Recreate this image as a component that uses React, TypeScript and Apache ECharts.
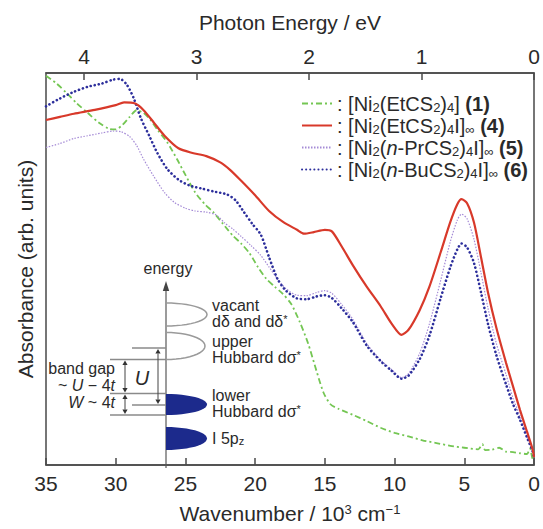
import React, { useEffect, useRef } from "react";
import * as echarts from "echarts";

// Wavenumber (10^3 cm^-1) vs absorbance (arb. units)
const seriesNames = ["s1", "s4", "s5", "s6"];
const legendLabels = [
  ": [Ni{s|2}(EtCS{s|2}){s|4}] {b|(1)}",
  ": [Ni{s|2}(EtCS{s|2}){s|4}I]{s|∞} {b|(4)}",
  ": [Ni{s|2}({i|n}-PrCS{s|2}){s|4}I]{s|∞} {b|(5)}",
  ": [Ni{s|2}({i|n}-BuCS{s|2}){s|4}I]{s|∞} {b|(6)}",
];
const wavenumberTicks = [35, 30, 25, 20, 15, 10, 5, 0];
const energyTicks = [4, 3, 2, 1, 0];
const EV_TO_KCM = 8.0655;

const data1: [number, number][] = [
  [35.0, 99.3], [34.3, 97.5], [33.5, 94.8], [32.8, 92.3], [32.0, 89.8], [31.2, 87.3],
  [30.5, 85.8], [30.0, 85.6], [29.5, 86.8], [29.0, 88.8], [28.5, 90.5], [28.0, 89.8],
  [27.5, 88.0], [27.0, 85.5], [26.3, 82.3], [25.6, 78.0], [25.0, 74.0], [24.3, 69.5],
  [23.6, 66.5], [23.0, 64.5], [22.3, 61.5], [21.6, 58.5], [21.0, 56.5], [20.4, 54.0],
  [19.8, 50.5], [19.2, 47.5], [18.6, 45.5], [18.0, 43.6], [17.4, 41.0], [16.8, 36.5],
  [16.2, 31.0], [15.6, 24.0], [15.1, 18.5], [14.6, 15.5], [14.0, 14.3], [13.0, 12.8],
  [12.0, 11.2], [11.0, 9.5], [10.0, 8.2], [9.0, 7.3], [8.0, 6.3], [7.0, 5.6],
  [6.0, 4.9], [5.0, 4.4], [4.0, 4.0], [3.7, 5.3], [3.5, 3.8], [3.0, 3.9],
  [2.5, 4.4], [2.0, 3.4], [1.5, 3.3], [1.0, 3.0], [0.5, 2.8], [0.3, 4.2],
  [0.1, 1.5], [0, 1.0],
];

const data4: [number, number][] = [
  [35.0, 88.0], [34.0, 88.8], [33.0, 89.6], [31.5, 90.6], [30.0, 91.8], [29.4, 92.5],
  [28.6, 92.2], [28.0, 90.5], [27.3, 87.5], [26.5, 84.0], [25.5, 80.8], [24.5, 79.6],
  [23.5, 78.8], [22.5, 77.2], [21.8, 75.3], [21.0, 72.5], [20.0, 68.8], [19.0, 64.8],
  [18.0, 62.0], [17.0, 60.0], [16.5, 59.0], [15.8, 59.4], [15.0, 60.0], [14.5, 59.6],
  [13.8, 55.8], [13.0, 51.0], [12.0, 45.5], [11.0, 40.5], [10.2, 36.0], [9.5, 33.2],
  [9.0, 34.5], [8.2, 39.5], [7.5, 45.5], [6.7, 54.2], [6.0, 62.0], [5.5, 66.5],
  [5.2, 67.8], [4.8, 66.8], [4.3, 61.8], [3.8, 53.0], [3.3, 44.0], [2.7, 35.0],
  [2.0, 26.0], [1.5, 20.0], [1.0, 14.0], [0.5, 8.5], [0.1, 4.0], [0, 2.0],
];

const data5: [number, number][] = [
  [35.0, 81.0], [34.0, 82.0], [33.0, 83.3], [32.0, 84.0], [31.0, 84.7], [30.2, 85.2],
  [29.6, 85.0], [29.0, 83.8], [28.5, 81.5], [28.0, 78.0], [27.3, 73.8], [26.5, 69.5],
  [25.8, 67.0], [25.0, 65.5], [24.3, 64.8], [23.5, 64.5], [22.8, 63.8], [22.2, 61.8],
  [21.6, 60.2], [21.0, 58.3], [20.3, 56.0], [19.6, 53.5], [19.0, 50.5], [18.4, 47.5],
  [17.8, 45.0], [17.0, 43.3], [16.3, 43.2], [15.6, 44.0], [15.0, 44.5], [14.5, 43.8],
  [13.8, 41.0], [13.0, 37.2], [12.0, 31.0], [11.0, 26.8], [10.2, 24.3], [9.5, 22.3],
  [9.0, 23.3], [8.2, 28.5], [7.5, 36.0], [6.7, 47.0], [6.0, 57.0], [5.5, 62.5],
  [5.2, 64.0], [4.8, 62.8], [4.3, 57.5], [3.8, 49.0], [3.3, 40.0], [2.7, 31.0],
  [2.0, 23.0], [1.5, 17.0], [1.0, 12.5], [0.5, 7.5], [0.1, 3.5], [0, 2.0],
];

const data6: [number, number][] = [
  [35.0, 91.5], [34.0, 93.5], [33.0, 95.2], [32.0, 96.5], [31.0, 97.3], [30.2, 98.3],
  [29.7, 98.5], [29.2, 97.0], [28.7, 93.5], [28.2, 88.5], [27.6, 84.0], [27.0, 79.5],
  [26.3, 75.5], [25.5, 72.8], [24.7, 71.3], [23.8, 70.5], [23.0, 69.8], [22.0, 69.0],
  [21.4, 67.5], [20.8, 64.5], [20.2, 61.5], [19.6, 58.8], [19.0, 53.0], [18.4, 47.5],
  [17.8, 44.5], [17.0, 42.5], [16.3, 42.3], [15.6, 43.0], [15.0, 43.3], [14.5, 42.6],
  [13.8, 40.0], [13.0, 36.5], [12.0, 30.5], [11.0, 26.5], [10.2, 24.0], [9.5, 22.0],
  [9.0, 22.8], [8.2, 27.0], [7.5, 33.0], [6.7, 42.5], [6.0, 50.5], [5.5, 55.0],
  [5.2, 56.5], [4.8, 55.5], [4.3, 51.5], [3.8, 44.0], [3.3, 36.0], [2.7, 28.0],
  [2.0, 20.5], [1.5, 15.5], [1.0, 11.5], [0.5, 7.0], [0.1, 3.5], [0, 2.0],
];

const FONT = "Liberation Sans, Arial, Helvetica, sans-serif";
const TXT = "#2a2a2a";

function halfEllipse(cx: number, cy: number, rx: number, ry: number): number[][] {
  const pts: number[][] = [];
  for (let i = 0; i <= 24; i++) {
    const a = -Math.PI / 2 + (Math.PI * i) / 24;
    pts.push([cx + rx * Math.cos(a), cy + ry * Math.sin(a)]);
  }
  return pts;
}

function hLine(x1: number, x2: number, y: number) {
  return { type: "line", shape: { x1, y1: y, x2, y2: y }, style: { stroke: "#8a8a8a", lineWidth: 1.4 } };
}

function dblArrow(x: number, y1: number, y2: number) {
  const h = 4.5;
  const w = 2.6;
  return [
    { type: "line", shape: { x1: x, y1: y1 + h, x2: x, y2: y2 - h }, style: { stroke: "#444", lineWidth: 1 } },
    { type: "polygon", shape: { points: [[x, y1], [x - w, y1 + h], [x + w, y1 + h]] }, style: { fill: "#333" } },
    { type: "polygon", shape: { points: [[x, y2], [x - w, y2 - h], [x + w, y2 - h]] }, style: { fill: "#333" } },
  ];
}

const insetRich = {
  n: { fontSize: 16, fontFamily: FONT, fill: TXT, lineHeight: 18 },
  it: { fontSize: 16, fontFamily: FONT, fill: TXT, fontStyle: "italic", lineHeight: 18 },
  sub: { fontSize: 11, fontFamily: FONT, fill: TXT, verticalAlign: "bottom", lineHeight: 10 },
  sup: { fontSize: 11, fontFamily: FONT, fill: TXT, verticalAlign: "top", lineHeight: 10 },
};

function insetText(x: number, y: number, text: string, align: string = "left") {
  return {
    type: "text",
    x,
    y,
    style: { text, align, verticalAlign: "middle", rich: insetRich, fontSize: 16, fontFamily: FONT, fill: TXT },
  };
}

export default function App() {
  const ref = useRef<HTMLDivElement>(null);

  useEffect(() => {
    document.body.style.margin = "0";
    if (!ref.current) return;
    const chart = echarts.init(ref.current, undefined, { renderer: "svg" });

    const mkSeries = (name: string, data: [number, number][], lineStyle: any, z: number) => ({
      name,
      type: "line",
      data,
      showSymbol: false,
      symbol: "none",
      smooth: 0.25,
      lineStyle,
      itemStyle: { color: lineStyle.color },
      z,
    });

    const legendRich = {
      m: { fontSize: 20, fontFamily: FONT, color: TXT, lineHeight: 21 },
      s: { fontSize: 13, fontFamily: FONT, color: TXT, verticalAlign: "bottom", lineHeight: 11 },
      i: { fontSize: 20, fontFamily: FONT, color: TXT, fontStyle: "italic", lineHeight: 21 },
      b: { fontSize: 20, fontFamily: FONT, color: TXT, fontWeight: "bold", lineHeight: 21 },
    };

    const graphics: any[] = [
      // energy axis
      { type: "line", shape: { x1: 166, y1: 289, x2: 166, y2: 468 }, style: { stroke: "#7a7a7a", lineWidth: 1.5 } },
      { type: "polygon", shape: { points: [[166, 281], [162.8, 291], [169.2, 291]] }, style: { fill: "#444" } },
      insetText(168, 268, "energy", "center"),
      // bands
      { type: "polyline", shape: { points: halfEllipse(166, 314.5, 41, 11.5) }, style: { stroke: "#9a9a9a", lineWidth: 1.5, fill: "none" } },
      { type: "polyline", shape: { points: halfEllipse(166, 346, 39, 13.5) }, style: { stroke: "#9a9a9a", lineWidth: 1.5, fill: "none" } },
      { type: "polygon", shape: { points: halfEllipse(166, 404.5, 41, 10.5) }, style: { fill: "#1c2a8c" } },
      { type: "polygon", shape: { points: halfEllipse(166, 438.5, 41, 11.5) }, style: { fill: "#1c2a8c" } },
      // level lines
      hLine(132, 166, 348),
      hLine(110, 166, 359.5),
      hLine(110, 166, 393.5),
      hLine(132, 166, 405),
      hLine(110, 166, 415),
      ...dblArrow(158, 349, 404),
      ...dblArrow(125, 360.5, 392.5),
      ...dblArrow(125, 394.5, 414),
      {
        type: "text", x: 142, y: 378,
        style: { text: "U", fontSize: 20, fontStyle: "italic", fontFamily: FONT, fill: TXT, align: "center", verticalAlign: "middle" },
      },
      insetText(115, 368, "band gap", "right"),
      insetText(115, 385, "~ {it|U} − 4{it|t}", "right"),
      insetText(115, 402, "{it|W} ~ 4{it|t}", "right"),
      insetText(212, 305, "vacant"),
      insetText(212, 321, "dδ and dδ{sup|*}"),
      insetText(212, 341, "upper"),
      insetText(212, 357, "Hubbard dσ{sup|*}"),
      insetText(212, 395, "lower"),
      insetText(212, 411, "Hubbard dσ{sup|*}"),
      insetText(212, 438, "I 5p{sub|z}"),
    ];

    chart.setOption({
      animation: false,
      backgroundColor: "#ffffff",
      textStyle: { fontFamily: FONT },
      grid: {
        left: 46, right: 9, top: 73, bottom: 60,
        show: true, borderColor: "#4a4a4a", borderWidth: 1.5, backgroundColor: "transparent",
      },
      legend: {
        orient: "vertical",
        left: 296,
        top: 88,
        itemWidth: 30,
        itemHeight: 10,
        itemGap: 1,
        data: seriesNames,
        itemStyle: { opacity: 0 },
        formatter: (name: string) => legendLabels[seriesNames.indexOf(name)],
        textStyle: { fontSize: 20, fontFamily: FONT, color: TXT, lineHeight: 21, rich: legendRich },
      },
      xAxis: [
        {
          type: "value",
          position: "bottom",
          min: 0,
          max: 35,
          interval: 5,
          inverse: true,
          name: "Wavenumber / 10{sup|3} cm{sup|−1}",
          nameLocation: "middle",
          nameGap: 38,
          nameTextStyle: {
            fontSize: 21, fontFamily: FONT, color: TXT,
            rich: {
              sup: { fontSize: 13, fontFamily: FONT, color: TXT, verticalAlign: "top", lineHeight: 12 },
            },
          },
          axisLine: { show: true, lineStyle: { color: "#4a4a4a", width: 1.5 } },
          axisTick: { show: true, inside: true, length: 7, lineStyle: { color: "#4a4a4a", width: 1.5 } },
          axisLabel: {
            fontSize: 21, fontFamily: FONT, color: TXT, margin: 8,
            formatter: (v: number) => (wavenumberTicks.includes(v) ? String(v) : ""),
          },
          splitLine: { show: false },
        },
        {
          type: "value",
          position: "top",
          min: 0,
          max: 35 / EV_TO_KCM,
          interval: 1,
          inverse: true,
          name: "Photon Energy / eV",
          nameLocation: "middle",
          nameGap: 40,
          nameTextStyle: { fontSize: 21, fontFamily: FONT, color: TXT },
          axisLine: { show: true, lineStyle: { color: "#4a4a4a", width: 1.5 } },
          axisTick: { show: true, inside: true, length: 7, lineStyle: { color: "#4a4a4a", width: 1.5 } },
          axisLabel: {
            fontSize: 21, fontFamily: FONT, color: TXT, margin: 6,
            showMaxLabel: false,
            formatter: (v: number) => (energyTicks.includes(v) ? String(v) : ""),
          },
          splitLine: { show: false },
        },
      ],
      yAxis: {
        type: "value",
        min: 0,
        max: 100,
        name: "Absorbance (arb. units)",
        nameLocation: "middle",
        nameGap: 10,
        nameTextStyle: { fontSize: 21, fontFamily: FONT, color: TXT },
        axisLine: { show: false },
        axisTick: { show: false },
        axisLabel: { show: false },
        splitLine: { show: false },
      },
      series: [
        mkSeries("s1", data1, { color: "#74c653", width: 1.8, type: [6, 3, 2, 3] }, 2),
        mkSeries("s4", data4, { color: "#d8392a", width: 2.2, type: "solid" }, 5),
        mkSeries("s5", data5, { color: "#a58bd6", width: 1.2, type: [1.5, 1.5] }, 3),
        mkSeries("s6", data6, { color: "#2d2f9c", width: 2.6, type: [0.1, 4], cap: "round" }, 4),
      ],
      graphic: graphics,
    });

    return () => chart.dispose();
  }, []);

  return <div ref={ref} style={{ width: 543, height: 529 }} />;
}
